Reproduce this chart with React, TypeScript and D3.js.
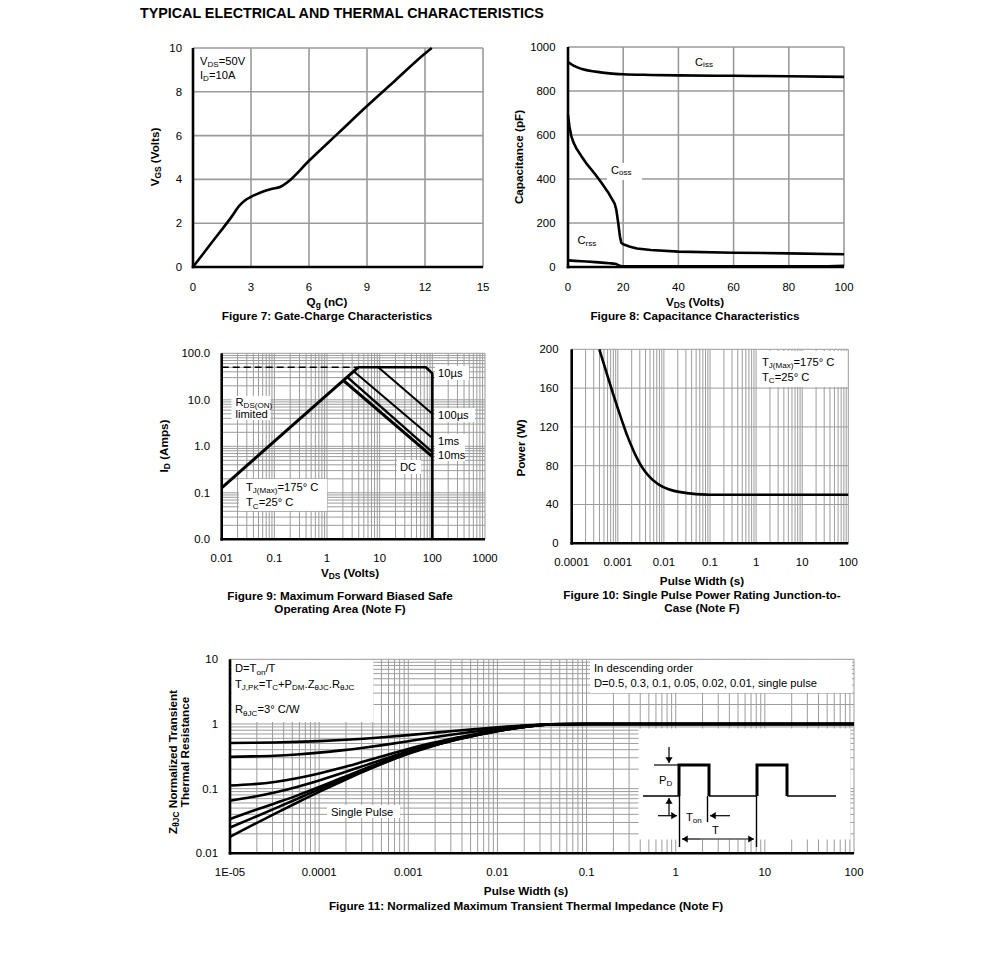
import React from 'react';
import * as d3 from 'd3';

const FONT = "'Liberation Sans', Arial, Helvetica, sans-serif";

// ---------------- Figure 7: gate charge ----------------
const F7_QG = [0, 1, 2, 2.4, 2.7, 3, 3.3, 3.7, 4.1, 4.5, 4.9, 6, 7.5, 9, 10.5, 12, 12.35];
const F7_VGS = [0, 1.15, 2.3, 2.8, 3.05, 3.2, 3.33, 3.47, 3.57, 3.65, 3.88, 4.85, 6.1, 7.35, 8.55, 9.75, 10];
const F7_XTICKS = [0, 3, 6, 9, 12, 15];
const F7_YTICKS = [0, 2, 4, 6, 8, 10];

// ---------------- Figure 8: capacitance ----------------
const F8_CISS_V = [0, 2, 5, 10, 15, 20, 30, 40, 60, 80, 100];
const F8_CISS = [932, 915, 900, 888, 880, 876, 873, 871, 869, 867, 864];
const F8_COSS_V = [0, 0.5, 1.2, 2, 3, 4.8, 7, 9.7, 12, 14.5, 16.9, 17.5, 18.2, 18.8, 19.3, 20, 22.5, 25, 30, 40, 60, 80, 100];
const F8_COSS = [690, 640, 595, 565, 540, 505, 465, 424, 385, 340, 288, 260, 200, 140, 110, 103, 92, 84, 77, 70, 65, 62, 58];
const F8_CRSS_V = [0, 5, 10, 15, 17, 18.5, 19.5, 30, 60, 90, 100];
const F8_CRSS = [30, 26, 22, 17, 15, 7, 3, 3, 3, 3, 6];
const F8_XTICKS = [0, 20, 40, 60, 80, 100];
const F8_YTICKS = [0, 200, 400, 600, 800, 1000];

// ---------------- Figure 9: SOA ----------------
const F9_RDS_V = [0.01, 3.9];
const F9_RDS_I = [0.128, 50];
const F9_LIM_V = [0.01, 3.9];
const F9_LIM_I = [50, 50];
const F9_10US_V = [3.9, 75, 100, 100];
const F9_10US_I = [50, 50, 37, 0.01];
const F9_100US_V = [9.4, 100];
const F9_100US_I = [50, 5];
const F9_1MS_V = [3.2, 100];
const F9_1MS_I = [41, 1.5];
const F9_10MS_V = [2.4, 100];
const F9_10MS_I = [31, 0.75];
const F9_DC_V = [2.05, 100];
const F9_DC_I = [26, 0.6];
const F9_XTICKS = [0.01, 0.1, 1, 10, 100, 1000];
const F9_YTICKS = [0.01, 0.1, 1, 10, 100];

// ---------------- Figure 10: single pulse power ----------------
const F10_T = [0.000398, 0.000501, 0.000631, 0.000794, 0.001, 0.00126, 0.00158, 0.002, 0.00251, 0.00316, 0.00398, 0.00501, 0.00631, 0.00794, 0.01, 0.0158, 0.0251, 0.0398, 0.0631, 0.1, 100];
const F10_P = [200, 184.4, 168.9, 153.7, 139, 125, 111.8, 99.8, 89.3, 80.5, 73.5, 68, 63.6, 60.2, 57.6, 54.3, 52.5, 51.2, 50.4, 50, 50];
const F10_XTICKS = [0.0001, 0.001, 0.01, 0.1, 1, 10, 100];
const F10_YTICKS = [0, 40, 80, 120, 160, 200];

// ---------------- Figure 11: transient thermal impedance ----------------
const F11_T = [1e-5, 1.78e-5, 3.16e-5, 5.62e-5, 1e-4, 1.78e-4, 3.16e-4, 5.62e-4, 1e-3, 1.78e-3, 3.16e-3, 5.62e-3, 1e-2, 1.78e-2, 3.16e-2, 5e-2, 0.1, 1, 10, 100];
const F11_D050 = [0.509, 0.512, 0.518, 0.528, 0.543, 0.565, 0.592, 0.628, 0.673, 0.723, 0.777, 0.831, 0.887, 0.94, 0.982, 0.995, 1, 1, 1, 1];
const F11_D030 = [0.31, 0.315, 0.323, 0.338, 0.36, 0.39, 0.429, 0.479, 0.542, 0.612, 0.687, 0.763, 0.842, 0.915, 0.975, 0.993, 1, 1, 1, 1];
const F11_D010 = [0.112, 0.117, 0.127, 0.145, 0.172, 0.21, 0.262, 0.328, 0.411, 0.501, 0.598, 0.695, 0.797, 0.891, 0.968, 0.991, 1, 1, 1, 1];
const F11_D005 = [0.065, 0.074, 0.087, 0.106, 0.134, 0.173, 0.225, 0.293, 0.378, 0.474, 0.575, 0.678, 0.785, 0.885, 0.966, 0.99, 1, 1, 1, 1];
const F11_D002 = [0.034, 0.045, 0.059, 0.078, 0.106, 0.146, 0.2, 0.271, 0.358, 0.457, 0.562, 0.668, 0.779, 0.881, 0.965, 0.99, 1, 1, 1, 1];
const F11_D001 = [0.025, 0.035, 0.049, 0.069, 0.098, 0.138, 0.192, 0.263, 0.352, 0.452, 0.557, 0.664, 0.776, 0.88, 0.964, 0.99, 1, 1, 1, 1];
const F11_SINGLE = [0.018, 0.0272, 0.0407, 0.0605, 0.0891, 0.129, 0.184, 0.256, 0.345, 0.446, 0.553, 0.661, 0.774, 0.879, 0.964, 0.99, 1, 1, 1, 1];
const F11_XTICKS = [1e-5, 1e-4, 1e-3, 1e-2, 1e-1, 1, 10, 100];
const F11_XLABELS = ['1E-05', '0.0001', '0.001', '0.01', '0.1', '1', '10', '100'];
const F11_YTICKS = [0.01, 0.1, 1, 10];
const F11_YLABELS = ['0.01', '0.1', '1', '10'];

type Part = [string, boolean?];

function rich(parts: Part[], shift = 2.2, subSize: any = '0.72em') {
  let shifted = false;
  return parts.map(([s, isSub], i) => {
    let dy: number | undefined;
    if (isSub && !shifted) { dy = shift; shifted = true; }
    else if (!isSub && shifted) { dy = -shift; shifted = false; }
    return (
      <tspan key={i} dy={dy} fontSize={isSub ? subSize : undefined}>{s}</tspan>
    );
  });
}

const zip = (a: number[], b: number[]) => a.map((v, i) => [v, b[i]] as [number, number]);

const TICK_FS = 11.4;
const LAB_FS = 11.7;
const BOX_FS = 11.2;

function Grid({ x, y, xs, ys, stroke = '#9a9a9a', sw = 1 }: any) {
  const [x0, x1] = x.range();
  const [y0, y1] = y.range();
  return (
    <g stroke={stroke} strokeWidth={sw}>
      {xs.map((v: number, i: number) => (
        <line key={'v' + i} x1={x(v)} x2={x(v)} y1={y0} y2={y1} />
      ))}
      {ys.map((v: number, i: number) => (
        <line key={'h' + i} x1={x0} x2={x1} y1={y(v)} y2={y(v)} />
      ))}
    </g>
  );
}

function Axes({ x, y, sw = 2.6 }: any) {
  const [x0, x1] = x.range();
  const [y0, y1] = y.range();
  return (
    <g stroke="#000" strokeWidth={sw} fill="none">
      <line x1={x0} x2={x0} y1={y1} y2={y0 + sw / 2} />
      <line x1={x0 - sw / 2} x2={x1} y1={y0} y2={y0} />
    </g>
  );
}

function XLabels({ x, ticks, labels, yPos, fs = TICK_FS }: any) {
  return (
    <g fontSize={fs} textAnchor="middle">
      {ticks.map((v: number, i: number) => (
        <text key={i} x={x(v)} y={yPos} dy="0.35em">{labels ? labels[i] : String(v)}</text>
      ))}
    </g>
  );
}

function YLabels({ y, ticks, labels, xPos, fs = TICK_FS }: any) {
  return (
    <g fontSize={fs} textAnchor="end">
      {ticks.map((v: number, i: number) => (
        <text key={i} x={xPos} y={y(v)} dy="0.35em">{labels ? labels[i] : String(v)}</text>
      ))}
    </g>
  );
}

function Curve({ x, y, data, sw = 2.6, curve = d3.curveLinear, dash }: any) {
  const gen = d3.line<[number, number]>().x(d => x(d[0])).y(d => y(d[1])).curve(curve);
  return <path d={gen(data) || ''} fill="none" stroke="#000" strokeWidth={sw} strokeDasharray={dash} strokeLinejoin="round" />;
}

function Arrow({ x1, y1, x2, y2, head = 3.6 }: any) {
  const a = Math.atan2(y2 - y1, x2 - x1);
  const p1 = [x2 - head * 1.6 * Math.cos(a) + head * Math.sin(a), y2 - head * 1.6 * Math.sin(a) - head * Math.cos(a)];
  const p2 = [x2 - head * 1.6 * Math.cos(a) - head * Math.sin(a), y2 - head * 1.6 * Math.sin(a) + head * Math.cos(a)];
  return (
    <g>
      <line x1={x1} y1={y1} x2={x2} y2={y2} stroke="#000" strokeWidth={1.2} />
      <polygon points={`${x2},${y2} ${p1[0]},${p1[1]} ${p2[0]},${p2[1]}`} fill="#000" />
    </g>
  );
}

export default function App() {
  const x7 = d3.scaleLinear().domain([0, 15]).range([193, 483]);
  const y7 = d3.scaleLinear().domain([0, 10]).range([267, 48]);
  const x8 = d3.scaleLinear().domain([0, 100]).range([568, 844]);
  const y8 = d3.scaleLinear().domain([0, 1000]).range([267, 47]);
  const x9 = d3.scaleLog().domain([0.01, 1000]).range([221.7, 485]);
  const y9 = d3.scaleLog().domain([0.01, 100]).range([539.3, 353.3]);
  const x10 = d3.scaleLog().domain([0.0001, 100]).range([571.7, 848.3]);
  const y10 = d3.scaleLinear().domain([0, 200]).range([543.3, 349.3]);
  const x11 = d3.scaleLog().domain([1e-5, 100]).range([230, 854]);
  const y11 = d3.scaleLog().domain([0.01, 10]).range([853.3, 659.3]);

  const bold = { fontWeight: 'bold' as const, fontSize: LAB_FS };

  return (
    <svg width={991} height={969} style={{ position: 'absolute', left: 0, top: 0 }} fontFamily={FONT} fill="#000">
      <rect x={0} y={0} width={991} height={969} fill="#fff" />
      <text x={140} y={18.3} fontSize={14.3} fontWeight="bold">TYPICAL ELECTRICAL AND THERMAL CHARACTERISTICS</text>

      {/* ================= Figure 7 ================= */}
      <Grid x={x7} y={y7} xs={F7_XTICKS.slice(1)} ys={F7_YTICKS.slice(1)} sw={1.6} />
      <rect x={195.5} y={49} width={48} height={36} fill="#fff" />
      <text x={200} y={65} fontSize={BOX_FS}>{rich([['V'], ['DS', true], ['=50V']])}</text>
      <text x={200} y={79} fontSize={BOX_FS}>{rich([['I'], ['D', true], ['=10A']])}</text>
      <Curve x={x7} y={y7} data={zip(F7_QG, F7_VGS)} curve={d3.curveMonotoneX} />
      <Axes x={x7} y={y7} />
      <YLabels y={y7} ticks={F7_YTICKS} xPos={182} />
      <XLabels x={x7} ticks={F7_XTICKS} yPos={287} />
      <text x={327} y={302.3} dy="0.35em" textAnchor="middle" {...bold}>{rich([['Q'], ['g', true], [' (nC)']], 1.8)}</text>
      <text x={327} y={315.8} dy="0.35em" textAnchor="middle" {...bold}>Figure 7: Gate-Charge Characteristics</text>
      <text transform="translate(154.5,157) rotate(-90)" textAnchor="middle" dy="0.35em" {...bold}>{rich([['V'], ['GS', true], [' (Volts)']])}</text>

      {/* ================= Figure 8 ================= */}
      <Grid x={x8} y={y8} xs={F8_XTICKS.slice(1)} ys={F8_YTICKS.slice(1)} sw={1.6} />
      <Curve x={x8} y={y8} data={zip(F8_CISS_V, F8_CISS)} curve={d3.curveMonotoneX} />
      <Curve x={x8} y={y8} data={zip(F8_COSS_V, F8_COSS)} />
      <Curve x={x8} y={y8} data={zip(F8_CRSS_V, F8_CRSS)} curve={d3.curveMonotoneX} />
      <text x={695} y={62} dy="0.35em" fontSize={BOX_FS}>{rich([['C'], ['iss', true]], 1.5)}</text>
      <rect x={607} y={163} width={35} height={17} fill="#fff" />
      <text x={611} y={170} dy="0.35em" fontSize={BOX_FS}>{rich([['C'], ['oss', true]], 1.5)}</text>
      <rect x={574} y={233} width={29} height={16} fill="#fff" />
      <text x={577.5} y={240.5} dy="0.35em" fontSize={BOX_FS}>{rich([['C'], ['rss', true]], 1.5)}</text>
      <Axes x={x8} y={y8} />
      <YLabels y={y8} ticks={F8_YTICKS} xPos={555.5} />
      <XLabels x={x8} ticks={F8_XTICKS} yPos={287} />
      <text x={695} y={302.3} dy="0.35em" textAnchor="middle" {...bold}>{rich([['V'], ['DS', true], [' (Volts)']], 1.8)}</text>
      <text x={695} y={315.8} dy="0.35em" textAnchor="middle" {...bold}>Figure 8: Capacitance Characteristics</text>
      <text transform="translate(518.5,157) rotate(-90)" textAnchor="middle" dy="0.35em" {...bold}>Capacitance (pF)</text>

      {/* ================= Figure 9 ================= */}
      <Grid x={x9} y={y9} xs={x9.ticks()} ys={y9.ticks()} sw={1} stroke="#9c9c9c" />
      <rect x={231.5} y={396} width={39} height={24} fill="#fff" />
      <text x={235.5} y={402} dy="0.35em" fontSize={BOX_FS}>{rich([['R'], ['DS(ON)', true]], 1.8)}</text>
      <text x={235.5} y={414.5} dy="0.35em" fontSize={BOX_FS}>limited</text>
      <rect x={239} y={479} width={88} height={32} fill="#fff" />
      <text x={246} y={487} dy="0.35em" fontSize={BOX_FS}>{rich([['T'], ['J(Max)', true], ['=175°  C']])}</text>
      <text x={246} y={502.5} dy="0.35em" fontSize={BOX_FS}>{rich([['T'], ['C', true], ['=25°  C']])}</text>
      <Curve x={x9} y={y9} data={zip(F9_LIM_V, F9_LIM_I)} sw={1.6} dash="7,4" />
      <Curve x={x9} y={y9} data={zip(F9_RDS_V, F9_RDS_I)} sw={3} />
      <Curve x={x9} y={y9} data={zip(F9_10US_V, F9_10US_I)} sw={2.6} />
      <Curve x={x9} y={y9} data={zip(F9_100US_V, F9_100US_I)} sw={2} />
      <Curve x={x9} y={y9} data={zip(F9_1MS_V, F9_1MS_I)} sw={2} />
      <Curve x={x9} y={y9} data={zip(F9_10MS_V, F9_10MS_I)} sw={2.4} />
      <Curve x={x9} y={y9} data={zip(F9_DC_V, F9_DC_I)} sw={3} />
      <rect x={435} y={366} width={34} height={14} fill="#fff" />
      <text x={438} y={373} dy="0.35em" fontSize={BOX_FS}>10µs</text>
      <rect x={435} y={408} width={40} height={14} fill="#fff" />
      <text x={438} y={415} dy="0.35em" fontSize={BOX_FS}>100µs</text>
      <rect x={435} y={434} width={30} height={27} fill="#fff" />
      <text x={438} y={441} dy="0.35em" fontSize={BOX_FS}>1ms</text>
      <text x={438} y={455} dy="0.35em" fontSize={BOX_FS}>10ms</text>
      <rect x={397} y={460} width={24} height={14} fill="#fff" />
      <text x={400} y={467} dy="0.35em" fontSize={BOX_FS}>DC</text>
      <Axes x={x9} y={y9} />
      <YLabels y={y9} ticks={F9_YTICKS} labels={F9_YTICKS.map(d3.format('.1f'))} xPos={210} />
      <XLabels x={x9} ticks={F9_XTICKS} yPos={558.3} />
      <text x={350} y={573} dy="0.35em" textAnchor="middle" {...bold}>{rich([['V'], ['DS', true], [' (Volts)']], 1.8)}</text>
      <text x={340} y={595.5} dy="0.35em" textAnchor="middle" {...bold}>Figure 9: Maximum Forward Biased Safe</text>
      <text x={340} y={608.5} dy="0.35em" textAnchor="middle" {...bold}>Operating Area (Note F)</text>
      <text transform="translate(164,446) rotate(-90)" textAnchor="middle" dy="0.35em" {...bold}>{rich([['I'], ['D', true], [' (Amps)']])}</text>

      {/* ================= Figure 10 ================= */}
      <Grid x={x10} y={y10} xs={x10.ticks()} ys={F10_YTICKS.slice(1)} sw={1} stroke="#9c9c9c" />
      <rect x={757} y={351} width={90} height={36} fill="#fff" />
      <text x={762} y={362} dy="0.35em" fontSize={BOX_FS}>{rich([['T'], ['J(Max)', true], ['=175°  C']])}</text>
      <text x={762} y={377} dy="0.35em" fontSize={BOX_FS}>{rich([['T'], ['C', true], ['=25°  C']])}</text>
      <Curve x={x10} y={y10} data={zip(F10_T, F10_P)} curve={d3.curveMonotoneX} />
      <Axes x={x10} y={y10} />
      <YLabels y={y10} ticks={F10_YTICKS} xPos={558.5} />
      <XLabels x={x10} ticks={F10_XTICKS} yPos={562.5} />
      <text x={702} y={580.5} dy="0.35em" textAnchor="middle" {...bold}>Pulse Width (s)</text>
      <text x={702} y={594.5} dy="0.35em" textAnchor="middle" {...bold}>Figure 10: Single Pulse Power Rating Junction-to-</text>
      <text x={702} y={608} dy="0.35em" textAnchor="middle" {...bold}>Case (Note F)</text>
      <text transform="translate(521,448) rotate(-90)" textAnchor="middle" dy="0.35em" {...bold}>Power (W)</text>

      {/* ================= Figure 11 ================= */}
      <Grid x={x11} y={y11} xs={x11.ticks()} ys={y11.ticks()} sw={1} stroke="#9c9c9c" />
      <rect x={231.5} y={660} width={142} height={62} fill="#fff" />
      <text x={235} y={668.5} dy="0.35em" fontSize={BOX_FS}>{rich([['D=T'], ['on', true], ['/T']])}</text>
      <text x={235} y={684} dy="0.35em" fontSize={BOX_FS}>{rich([['T'], ['J,PK', true], ['=T'], ['C', true], ['+P'], ['DM', true], ['.Z'], ['θJC', true], ['.R'], ['θJC', true]])}</text>
      <text x={235} y={709.5} dy="0.35em" fontSize={BOX_FS}>{rich([['R'], ['θJC', true], ['=3°  C/W']])}</text>
      <rect x={590} y={660} width={262} height={33} fill="#fff" />
      <text x={594} y={668.5} dy="0.35em" fontSize={BOX_FS}>In descending order</text>
      <text x={594} y={683} dy="0.35em" fontSize={BOX_FS}>D=0.5, 0.3, 0.1, 0.05, 0.02, 0.01, single pulse</text>
      <rect x={327} y={805} width={73} height={13} fill="#fff" />
      <text x={331} y={811.7} dy="0.35em" fontSize={BOX_FS}>Single Pulse</text>

      {/* inset pulse diagram */}
      <rect x={638.5} y={728.5} width={212} height={111} fill="#fff" />
      <g stroke="#000" fill="none">
        <line x1={654} y1={765} x2={679} y2={765} strokeWidth={1.2} />
        <line x1={643} y1={796} x2={679} y2={796} strokeWidth={1.6} />
        <path d="M679,796 V765 H709 V796" strokeWidth={3} />
        <line x1={709} y1={796} x2={757} y2={796} strokeWidth={1.6} />
        <path d="M757,796 V765 H787 V796" strokeWidth={3} />
        <line x1={787} y1={796} x2={836} y2={796} strokeWidth={1.6} />
        <line x1={679.5} y1={796} x2={679.5} y2={847} strokeWidth={1.4} />
        <line x1={707.5} y1={796} x2={707.5} y2={822} strokeWidth={1.4} />
        <line x1={756.5} y1={796} x2={756.5} y2={847} strokeWidth={1.4} />
      </g>
      <Arrow x1={669} y1={747} x2={669} y2={763} />
      <Arrow x1={669} y1={815} x2={669} y2={798} />
      <Arrow x1={658} y1={815.7} x2={677} y2={815.7} />
      <Arrow x1={730} y1={815.7} x2={710} y2={815.7} />
      <Arrow x1={700} y1={839} x2={682} y2={839} />
      <Arrow x1={700} y1={839} x2={754} y2={839} />
      <text x={659} y={780} dy="0.35em" fontSize={BOX_FS}>{rich([['P'], ['D', true]])}</text>
      <text x={686} y={817} dy="0.35em" fontSize={BOX_FS}>{rich([['T'], ['on', true]])}</text>
      <text x={712} y={830} dy="0.35em" fontSize={BOX_FS}>T</text>

      <Curve x={x11} y={y11} data={zip(F11_T, F11_D050)} curve={d3.curveMonotoneX} />
      <Curve x={x11} y={y11} data={zip(F11_T, F11_D030)} curve={d3.curveMonotoneX} />
      <Curve x={x11} y={y11} data={zip(F11_T, F11_D010)} curve={d3.curveMonotoneX} />
      <Curve x={x11} y={y11} data={zip(F11_T, F11_D005)} curve={d3.curveMonotoneX} />
      <Curve x={x11} y={y11} data={zip(F11_T, F11_D002)} curve={d3.curveMonotoneX} />
      <Curve x={x11} y={y11} data={zip(F11_T, F11_D001)} curve={d3.curveMonotoneX} />
      <Curve x={x11} y={y11} data={zip(F11_T, F11_SINGLE)} curve={d3.curveMonotoneX} />
      <Axes x={x11} y={y11} />
      <YLabels y={y11} ticks={F11_YTICKS} labels={F11_YLABELS} xPos={218} />
      <XLabels x={x11} ticks={F11_XTICKS} labels={F11_XLABELS} yPos={872} />
      <text x={526} y={890.5} dy="0.35em" textAnchor="middle" {...bold}>Pulse Width (s)</text>
      <text x={526} y={905.5} dy="0.35em" textAnchor="middle" {...bold}>Figure 11: Normalized Maximum Transient Thermal Impedance (Note F)</text>
      <text transform="translate(172.5,762) rotate(-90)" textAnchor="middle" dy="0.35em" {...bold}>{rich([['Z'], ['θJC', true], [' Normalized Transient']], 2)}</text>
      <text transform="translate(184.5,752) rotate(-90)" textAnchor="middle" dy="0.35em" {...bold}>Thermal Resistance</text>
    </svg>
  );
}
